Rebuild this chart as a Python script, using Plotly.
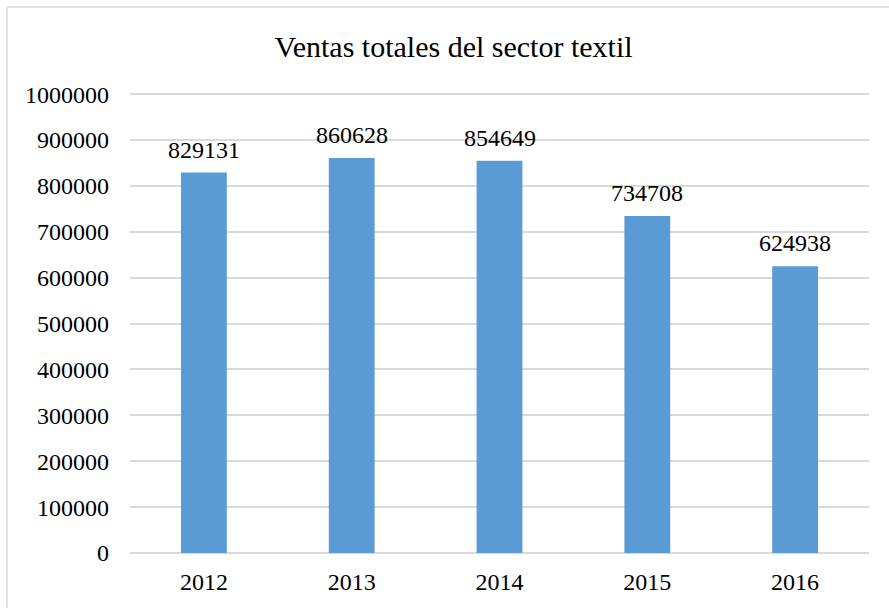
import plotly.graph_objects as go

years = ["2012", "2013", "2014", "2015", "2016"]
ventas = [829131, 860628, 854649, 734708, 624938]
y_ticks = [0, 100000, 200000, 300000, 400000, 500000, 600000, 700000, 800000, 900000, 1000000]

FONT = "Liberation Serif, Times New Roman, serif"

fig = go.Figure()
fig.add_trace(go.Bar(
    x=years, y=ventas,
    marker=dict(color="#5B9BD5", line=dict(width=0)),
    width=0.31,
    hoverinfo="x+y",
))

for i, v in enumerate(ventas):
    fig.add_annotation(x=i, y=v, text=str(v), showarrow=False,
                       yanchor="bottom", yshift=8,
                       font=dict(family=FONT, size=24, color="#000000"))

fig.update_layout(
    width=889, height=608,
    margin=dict(l=130, r=20, t=93, b=55),
    paper_bgcolor="white", plot_bgcolor="white",
    showlegend=False,
    title=dict(text="Ventas totales del sector textil", x=(276 + 631) / 2 / 889, xanchor="center",
               y=1 - 46 / 608, yanchor="middle",
               font=dict(family=FONT, size=30, color="#000000")),
    font=dict(family=FONT, size=24, color="#000000"),
    xaxis=dict(type="category", showgrid=False, showline=False, zeroline=False,
               ticks="", ticklabelstandoff=12, automargin=False,
               range=[-0.5, 4.5],
               tickfont=dict(family=FONT, size=24, color="#000000")),
    yaxis=dict(range=[0, 1002500], tickvals=y_ticks, ticktext=[str(t) for t in y_ticks],
               showgrid=True, gridcolor="#D9D9D9", gridwidth=1.5,
               zeroline=True, zerolinecolor="#D9D9D9", zerolinewidth=1.5,
               showline=False, ticks="", ticklabelstandoff=20, automargin=False,
               tickfont=dict(family=FONT, size=24, color="#000000")),
    shapes=[
        dict(type="line", xref="paper", yref="paper",
             x0=(7 - 130) / 739, x1=(895 - 130) / 739,
             y0=(553 - 7) / 460, y1=(553 - 7) / 460,
             line=dict(color="#D9D9D9", width=1.5)),
        dict(type="line", xref="paper", yref="paper",
             x0=(7 - 130) / 739, x1=(7 - 130) / 739,
             y0=(553 - 7) / 460, y1=(553 - 615) / 460,
             line=dict(color="#D9D9D9", width=1.5)),
    ],
)

fig.write_html("out.html", config={"displayModeBar": False},
               post_script="document.body.style.margin='0';")
